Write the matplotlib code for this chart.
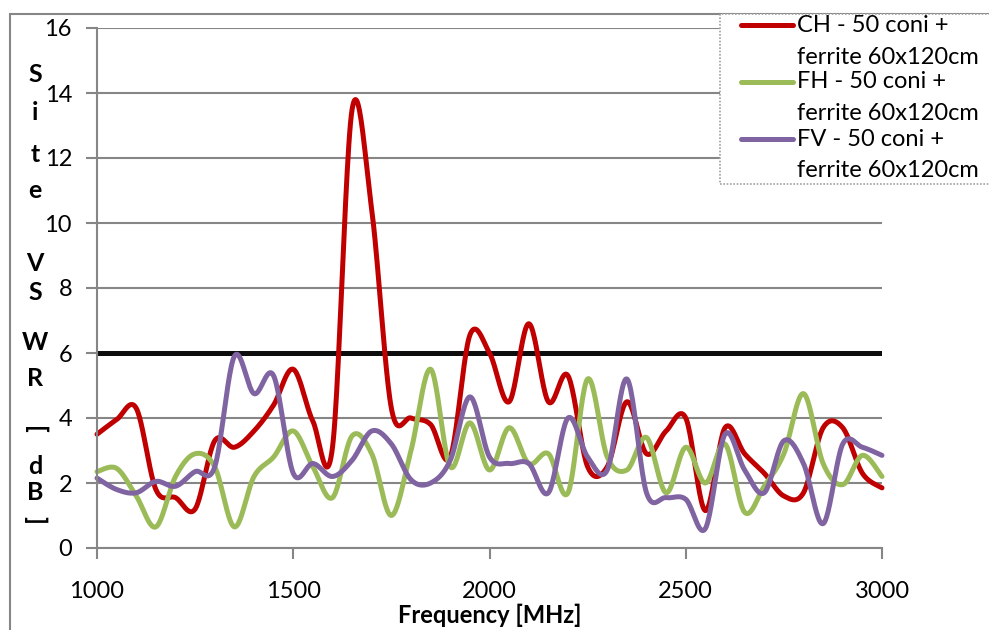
import numpy as np
import matplotlib
matplotlib.use("Agg")
import matplotlib.pyplot as plt
from matplotlib.lines import Line2D
from matplotlib.patches import Rectangle

plt.rcParams['font.family'] = ['Lato', 'DejaVu Sans']

# frequency points (MHz)
freq = [1000, 1050, 1100, 1150, 1200, 1250, 1300, 1350, 1400, 1450,
        1500, 1550, 1600, 1650, 1700, 1750, 1800, 1850, 1900, 1950,
        2000, 2050, 2100, 2150, 2200, 2250, 2300, 2350, 2400, 2450,
        2500, 2550, 2600, 2650, 2700, 2750, 2800, 2850, 2900, 2950, 3000]

ch = [3.5, 3.95, 4.3, 1.8, 1.55, 1.2, 3.3, 3.1, 3.6, 4.4,
      5.5, 3.9, 3.1, 13.5, 10.4, 4.3, 4.0, 3.8, 2.8, 6.55,
      6.0, 4.5, 6.9, 4.5, 5.3, 2.5, 2.5, 4.5, 2.9, 3.6,
      4.0, 1.15, 3.7, 2.9, 2.3, 1.6, 1.7, 3.7, 3.7, 2.3, 1.85]

fh = [2.35, 2.45, 1.6, 0.65, 2.2, 2.9, 2.5, 0.65, 2.2, 2.8,
      3.6, 2.5, 1.55, 3.45, 2.9, 1.0, 3.0, 5.5, 2.5, 3.85,
      2.4, 3.7, 2.6, 2.9, 1.7, 5.2, 2.8, 2.4, 3.4, 1.7,
      3.1, 2.0, 3.2, 1.1, 1.9, 2.9, 4.75, 2.6, 1.95, 2.85, 2.2]

fv = [2.15, 1.8, 1.7, 2.05, 1.9, 2.35, 2.5, 5.9, 4.75, 5.3,
      2.3, 2.6, 2.2, 2.7, 3.6, 3.2, 2.1, 2.0, 2.7, 4.65,
      2.8, 2.6, 2.6, 1.7, 4.0, 2.8, 2.4, 5.2, 1.7, 1.55,
      1.5, 0.6, 3.5, 2.4, 1.7, 3.3, 2.6, 0.75, 3.2, 3.1, 2.85]

limit_x = [1000, 3000]
limit_y = [6, 6]

names = ['CH - 50 coni +\nferrite 60x120cm',
         'FH - 50 coni +\nferrite 60x120cm',
         'FV - 50 coni +\nferrite 60x120cm']
colors = ['#C00000', '#9BBB59', '#8064A2']


def smooth(x, y, n=24):
    # Catmull-Rom spline like Excel's smoothed line
    x = np.asarray(x, float)
    y = np.asarray(y, float)
    px = np.concatenate([[x[0]], x, [x[-1]]])
    py = np.concatenate([[y[0]], y, [y[-1]]])
    t = np.linspace(0, 1, n, endpoint=False)
    xs, ys = [], []
    for i in range(len(x) - 1):
        for p, out in ((px, xs), (py, ys)):
            p0, p1, p2, p3 = p[i], p[i + 1], p[i + 2], p[i + 3]
            out.append(0.5 * (2 * p1 + (-p0 + p2) * t
                              + (2 * p0 - 5 * p1 + 4 * p2 - p3) * t ** 2
                              + (-p0 + 3 * p1 - 3 * p2 + p3) * t ** 3))
    xs.append([x[-1]])
    ys.append([y[-1]])
    return np.concatenate(xs), np.concatenate(ys)


W, H = 989, 630
fig = plt.figure(figsize=(W / 100, H / 100), dpi=100)
ax = fig.add_axes([97 / W, 1 - 548 / H, (882 - 97) / W, (548 - 28) / H])

grey = '#868686'
ax.set_xlim(1000, 3000)
ax.set_ylim(0, 16)
ax.set_yticks(range(0, 17, 2))
ax.set_xticks(range(1000, 3001, 500))
ax.yaxis.grid(True, color=grey, lw=1.5)
ax.set_axisbelow(True)
for s in ['top', 'right']:
    ax.spines[s].set_visible(False)
for s in ['left', 'bottom']:
    ax.spines[s].set_color(grey)
    ax.spines[s].set_linewidth(1.5)
ax.tick_params(axis='both', direction='out', length=8, width=1.5, color=grey,
               labelsize=17)
ax.tick_params(axis='y', pad=10)
ax.tick_params(axis='x', pad=16)

for vals, c in zip([ch, fh, fv], colors):
    sx, sy = smooth(freq, vals)
    ax.plot(sx, sy, color=c, lw=3.6, solid_capstyle='round', clip_on=False)

ax.plot(limit_x, limit_y, color='#0d0d0d', lw=3.6, zorder=1.5)

ax.set_xlabel('Frequency [MHz]', fontsize=17, fontweight='bold', labelpad=0,
              va='center')
ax.xaxis.set_label_coords(0.5, -(615 - 548) / 520)

# stacked y-axis title
ylab = ['S', 'i', 't', 'e', 'V', 'S', 'W', 'R', '[', 'd', 'B', ']']
ypos = [75, 113, 155, 190, 263, 292, 343, 378, 430, 466, 492, 520]
for ch_, yp in zip(ylab, ypos):
    rot = -90 if ch_ in '[]' else 0
    fig.text(35 / W, 1 - yp / H, ch_, fontsize=18, fontweight='bold',
             ha='center', va='center', rotation=rot)

# outer chart border
fig.patches.append(Rectangle((10 / W, -0.1), 1.2, 1 - 14 / H + 0.1,
                             transform=fig.transFigure, fill=False,
                             edgecolor=grey, lw=1.5))

# legend
fig.patches.append(Rectangle((720 / W, 1 - 184 / H), 0.5, 170 / H,
                             transform=fig.transFigure, facecolor='white',
                             edgecolor='#a0a0a0', lw=1.2, ls=(0, (1, 1)),
                             zorder=5))
for i, (nm, c) in enumerate(zip(names, colors)):
    y0 = 25 + 57 * i
    fig.lines.append(Line2D([741 / W, 793 / W], [1 - y0 / H, 1 - y0 / H],
                            transform=fig.transFigure, color=c, lw=3.6,
                            solid_capstyle='round', zorder=6))
    l1, l2 = nm.split('\n')
    fig.text(797 / W, 1 - y0 / H, l1, fontsize=17, va='center', zorder=6)
    fig.text(797 / W, 1 - (y0 + 32) / H, l2, fontsize=17, va='center', zorder=6)

fig.savefig('out.png', dpi=100)
